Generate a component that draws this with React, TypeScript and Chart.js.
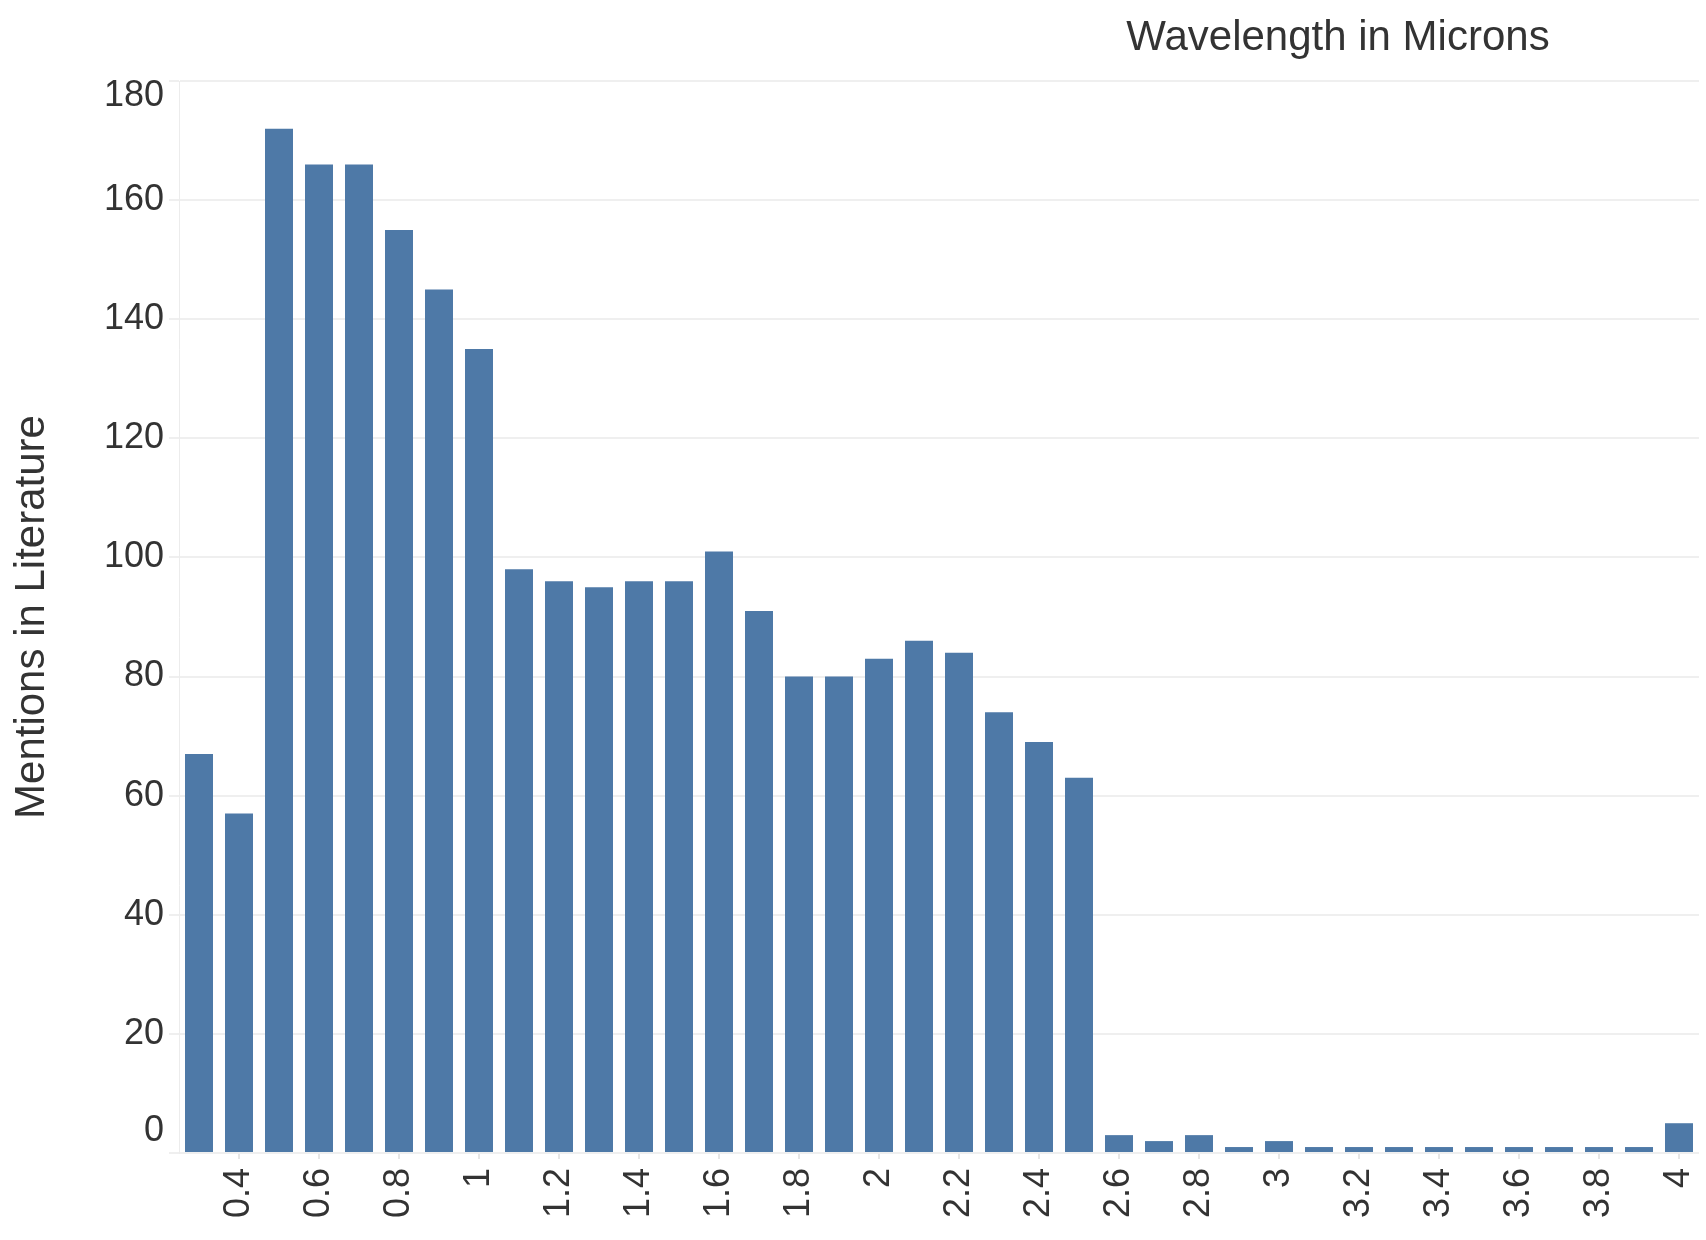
import { useEffect, useRef } from "react";
import { Chart, registerables } from "chart.js";

Chart.register(...registerables);

// Wavelength bins (microns) and how often each is mentioned
const wavelengths = [
  "0.3", "0.4", "0.5", "0.6", "0.7", "0.8", "0.9", "1",
  "1.1", "1.2", "1.3", "1.4", "1.5", "1.6", "1.7", "1.8", "1.9", "2",
  "2.1", "2.2", "2.3", "2.4", "2.5", "2.6", "2.7", "2.8", "2.9", "3",
  "3.1", "3.2", "3.3", "3.4", "3.5", "3.6", "3.7", "3.8", "3.9", "4",
];
const mentions = [
  67, 57, 172, 166, 166, 155, 145, 135,
  98, 96, 95, 96, 96, 101, 91, 80, 80, 83,
  86, 84, 74, 69, 63, 3, 2, 3, 1, 2,
  1, 1, 1, 1, 1, 1, 1, 1, 1, 5,
];

// only every other wavelength gets a label on the axis
const shownTicks = [
  "0.4", "0.6", "0.8", "1", "1.2", "1.4", "1.6", "1.8", "2",
  "2.2", "2.4", "2.6", "2.8", "3", "3.2", "3.4", "3.6", "3.8", "4",
];
const yTicks = [0, 20, 40, 60, 80, 100, 120, 140, 160, 180];

const FONT = "'Liberation Sans', Arial, Helvetica, sans-serif";
const TEXT = "#333333";
const GRID = "#efefef";
const BAR = "#4e79a7";

// Tableau nudges the end labels inward and puts the header above the plot
const textPlugin = {
  id: "tableauText",
  afterDraw(chart: Chart) {
    const { ctx, chartArea } = chart;
    const y = chart.scales.y;
    ctx.save();
    ctx.fillStyle = TEXT;
    ctx.font = `36px ${FONT}`;
    ctx.textAlign = "right";
    ctx.textBaseline = "middle";
    for (const v of yTicks) {
      let py = y.getPixelForValue(v);
      py = Math.min(Math.max(py, y.top + 15), y.bottom - 22);
      ctx.fillText(String(v), y.right - 15, py);
    }
    ctx.font = `42px ${FONT}`;
    ctx.textAlign = "center";
    ctx.textBaseline = "alphabetic";
    ctx.fillText("Wavelength in Microns", chartArea.right - 361, 50);
    ctx.restore();
  },
};

function WavelengthChart() {
  const canvasRef = useRef<HTMLCanvasElement>(null);
  const chartRef = useRef<Chart | null>(null);

  useEffect(() => {
    if (!canvasRef.current) return;
    if (chartRef.current) chartRef.current.destroy();

    chartRef.current = new Chart(canvasRef.current, {
      type: "bar",
      data: {
        labels: wavelengths,
        datasets: [
          {
            label: "Mentions in Literature",
            data: mentions,
            backgroundColor: BAR,
            borderWidth: 0,
            barPercentage: 0.7,
            categoryPercentage: 1,
          },
        ],
      },
      options: {
        animation: false,
        responsive: true,
        maintainAspectRatio: false,
        layout: { padding: { top: 81, left: 0, right: 0, bottom: 0 } },
        plugins: {
          legend: { display: false },
          tooltip: { enabled: false },
        },
        scales: {
          x: {
            offset: true,
            grid: {
              offset: false,
              drawOnChartArea: false,
              drawTicks: true,
              tickLength: 6,
              lineWidth: 2,
              color: (c: any) =>
                shownTicks.includes(wavelengths[c.index]) ? "#e6e6e6" : "rgba(0,0,0,0)",
            },
            border: { display: false },
            ticks: {
              autoSkip: false,
              minRotation: 90,
              maxRotation: 90,
              padding: 9,
              color: TEXT,
              font: { family: FONT, size: 36 },
              callback: (_v: any, i: number) =>
                shownTicks.includes(wavelengths[i]) ? wavelengths[i] : "",
            },
            afterFit: (s: any) => {
              s.height = 87;
              s.paddingLeft = 0;
              s.paddingRight = 7;
            },
          },
          y: {
            min: 0,
            max: 180,
            ticks: { stepSize: 20, display: false },
            grid: { color: GRID, lineWidth: 2, tickLength: 10, drawTicks: true },
            border: { display: true, color: "#ececec", width: 1 },
            title: {
              display: true,
              text: "Mentions in Literature",
              color: TEXT,
              font: { family: FONT, size: 42 },
              padding: { top: 7, bottom: 0 },
            },
            afterFit: (s: any) => {
              s.width = 179;
            },
          },
        },
      },
      plugins: [textPlugin],
    });

    return () => {
      if (chartRef.current) {
        chartRef.current.destroy();
        chartRef.current = null;
      }
    };
  }, []);

  return <canvas ref={canvasRef} />;
}

export default function App() {
  return (
    <div
      style={{
        position: "fixed",
        left: 0,
        top: 0,
        width: "100vw",
        height: "100vh",
        background: "#ffffff",
      }}
    >
      <WavelengthChart />
    </div>
  );
}
